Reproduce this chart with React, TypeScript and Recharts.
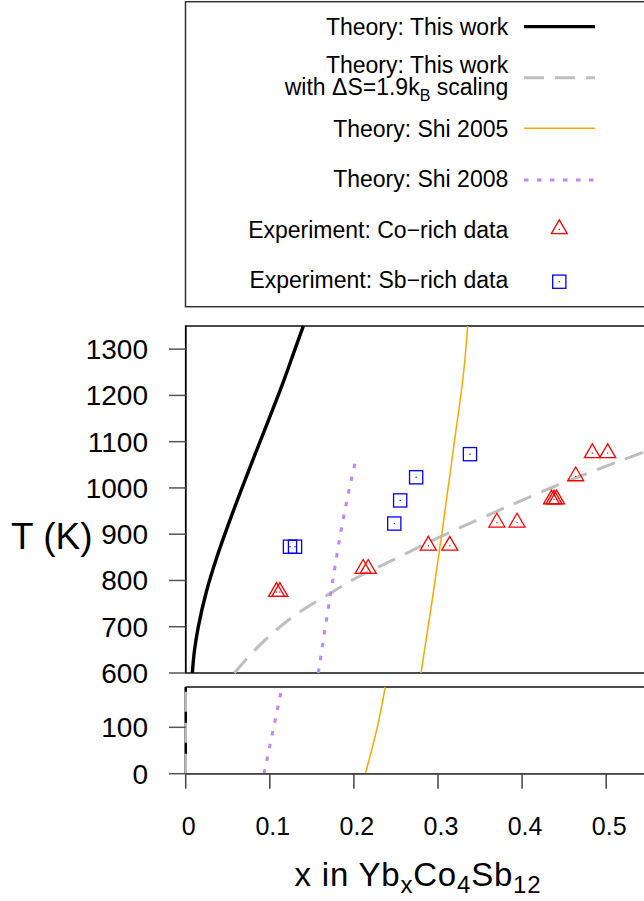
import { ComposedChart, Line, Scatter, XAxis, YAxis, ReferenceArea } from "recharts";

const FONT = '"Liberation Sans", Arial, Helvetica, sans-serif';

// upper panel, 600-1350 K
const thisWorkX = [0.0079, 0.0105, 0.015, 0.0245, 0.037, 0.0515, 0.067, 0.083, 0.0992, 0.1152, 0.13, 0.1399];
const thisWorkT = [600, 650, 700, 775, 850, 925, 1000, 1075, 1150, 1225, 1300, 1350];

const scaledX = [0.0578, 0.0943, 0.13, 0.1716, 0.2053, 0.237, 0.3024, 0.3618, 0.437, 0.544, 0.55];
const scaledT = [600, 671, 725, 772, 808, 836, 894, 943, 1002, 1077, 1081];

const shi2005X = [0.2798, 0.2925, 0.3045, 0.3195, 0.3305, 0.3353];
const shi2005T = [600, 750, 900, 1100, 1250, 1350];

const shi2008X = [0.1577, 0.1724, 0.1874, 0.2033];
const shi2008T = [600, 772, 934, 1070];

// lower panel, 0-187 K
const thisWorkLowX = [0, 0];
const thisWorkLowT = [0, 187];
const scaledLowX = [0, 0];
const scaledLowT = [0, 187];
const shi2005LowX = [0.2136, 0.2278, 0.2373];
const shi2005LowT = [0, 100, 187];
const shi2008LowX = [0.0931, 0.1023, 0.113];
const shi2008LowT = [0, 80, 174];

// experiments
const coRichX = [0.108, 0.112, 0.211, 0.217, 0.2885, 0.314, 0.37, 0.394, 0.435, 0.438, 0.441, 0.4637, 0.4835, 0.5018];
const coRichT = [775, 775, 825, 825, 875, 875, 925, 925, 975, 975, 975, 1025, 1075, 1075];
const sbRichX = [0.124, 0.13, 0.248, 0.255, 0.274, 0.338];
const sbRichT = [873, 873, 923, 973, 1023, 1073];

const xTicks = [0, 0.1, 0.2, 0.3, 0.4, 0.5];
const yTicksTop = [600, 700, 800, 900, 1000, 1100, 1200, 1300];
const yTicksLow = [0, 100];

const zip = (xs: number[], ts: number[]) => xs.map((x, i) => ({ x, t: ts[i] }));

const thisWork = zip(thisWorkX, thisWorkT);
const scaled = zip(scaledX, scaledT);
const shi2005 = zip(shi2005X, shi2005T);
const shi2008 = zip(shi2008X, shi2008T);
const thisWorkLow = zip(thisWorkLowX, thisWorkLowT);
const scaledLow = zip(scaledLowX, scaledLowT);
const shi2005Low = zip(shi2005LowX, shi2005LowT);
const shi2008Low = zip(shi2008LowX, shi2008LowT);
const coRich = zip(coRichX, coRichT);
const sbRich = zip(sbRichX, sbRichT);

const BLACK = "#000000";
const GRAY = "#bebebe";
const ORANGE = "#ffa500";
const PURPLE = "#bb88ff";
const RED = "#ff0000";
const BLUE = "#0000ff";

const Triangle = ({ cx, cy }: any) => (
    <g>
        <path d={`M${cx},${cy - 9.4}L${cx + 8},${cy + 4.4}L${cx - 8},${cy + 4.4}Z`} fill="none" stroke={RED} strokeWidth={1.3} />
        <rect x={cx - 0.6} y={cy - 0.6} width={1.2} height={1.2} fill={RED} />
    </g>
);

const Square = ({ cx, cy }: any) => (
    <g>
        <rect x={cx - 6.6} y={cy - 6.6} width={13.2} height={13.2} fill="none" stroke={BLUE} strokeWidth={1.3} />
        <rect x={cx - 0.6} y={cy - 0.6} width={1.2} height={1.2} fill={BLUE} />
    </g>
);

const YTick = ({ x, y, payload }: any) => (
    <text x={x} y={y} dy="0.355em" textAnchor="end" fontSize={28} fontFamily={FONT} fill="#000">
        {payload.value}
    </text>
);

const XTick = ({ x, y, payload }: any) => (
    <text x={x + 3} y={y} dy="0.71em" textAnchor="middle" fontSize={25} fontFamily={FONT} fill="#000">
        {payload.value}
    </text>
);

const lineProps = { type: "monotoneY" as const, dataKey: "t", dot: false, isAnimationActive: false, activeDot: false };

function Legend() {
    const textX = 508.3;
    const x1 = 524;
    const x2 = 595;
    const mx = 559.3;
    const txt = { fontSize: 23, fontFamily: FONT, fill: "#000", textAnchor: "end" as const };
    return (
        <svg width={644} height={310} style={{ position: "absolute", left: 0, top: 0 }}>
            <rect x={185.5} y={1.7} width={600} height={305} fill="#fff" stroke="#333" strokeWidth={1.5} />
            <text x={textX} y={35} {...txt}>Theory: This work</text>
            <line x1={x1} x2={x2} y1={26.7} y2={26.7} stroke={BLACK} strokeWidth={3.2} />

            <text {...txt}>
                <tspan x={textX} y={73.3}>Theory: This work</tspan>
                <tspan x={textX} y={95}>with ΔS=1.9k</tspan>
                <tspan fontSize={16} dy={6}>B</tspan>
                <tspan dy={-6}> scaling</tspan>
            </text>
            <line x1={x1} x2={x2} y1={77.7} y2={77.7} stroke={GRAY} strokeWidth={3} strokeDasharray="20 11" />

            <text x={textX} y={136.7} {...txt}>Theory: Shi 2005</text>
            <line x1={x1} x2={x2} y1={128.3} y2={128.3} stroke={ORANGE} strokeWidth={1.5} />

            <text x={textX} y={187.3} {...txt}>Theory: Shi 2008</text>
            <line x1={x1} x2={x2} y1={180} y2={180} stroke={PURPLE} strokeWidth={3} strokeDasharray="4.5 8.5" />

            <text x={textX} y={238.3} {...txt}>Experiment: Co−rich data</text>
            <Triangle cx={mx} cy={229.3} />

            <text x={textX} y={288.3} {...txt}>Experiment: Sb−rich data</text>
            <Square cx={mx} cy={281.7} />
        </svg>
    );
}

export default function App() {
    const plotW = 0.6 * 841;
    const left = 185.7;
    const lowH = 86.7;
    return (
        <div style={{ position: "fixed", left: 0, top: 0, width: 644, height: 901, overflow: "hidden", background: "#fff" }}>
            <Legend />

            <div style={{ position: "absolute", left: 0, top: 315.7 }}>
                <ComposedChart width={left + plotW} height={372} margin={{ top: 10, right: 0, bottom: 15, left: 0 }}>
                    <XAxis type="number" dataKey="x" domain={[0, 0.6]} hide />
                    <YAxis
                        type="number"
                        dataKey="t"
                        width={left}
                        domain={[600, 1350]}
                        ticks={yTicksTop}
                        interval={0}
                        tick={YTick}
                        tickSize={16.7}
                        tickMargin={21}
                        tickLine={{ stroke: "#555", strokeWidth: 1.5 }}
                        axisLine={{ stroke: "#000", strokeWidth: 1.5 }}
                        label={{
                            content: () => (
                                <text x={11} y={232.6} fontSize={37} fontFamily={FONT} fill="#000">T (K)</text>
                            ),
                        }}
                    />
                    <ReferenceArea x1={0} x2={0.6} y1={600} y2={1350} fill="none" stroke="#111" strokeWidth={1.5} />
                    <Line {...lineProps} data={thisWork} stroke={BLACK} strokeWidth={3.4} />
                    <Line {...lineProps} data={scaled} stroke={GRAY} strokeWidth={3} strokeDasharray="19 11" />
                    <Line {...lineProps} data={shi2005} stroke={ORANGE} strokeWidth={1.5} />
                    <Line {...lineProps} data={shi2008} stroke={PURPLE} strokeWidth={3} strokeDasharray="4.5 8.5" />
                    <Scatter data={coRich} dataKey="t" shape={Triangle} isAnimationActive={false} />
                    <Scatter data={sbRich} dataKey="t" shape={Square} isAnimationActive={false} />
                </ComposedChart>
            </div>

            <div style={{ position: "absolute", left: 0, top: 677.3 }}>
                <ComposedChart width={left + plotW} height={220.7} margin={{ top: 10, right: 0, bottom: 0, left: 0 }}>
                    <XAxis
                        type="number"
                        dataKey="x"
                        domain={[0, 0.6]}
                        ticks={xTicks}
                        interval={0}
                        height={124}
                        tick={XTick}
                        tickSize={15}
                        tickMargin={29}
                        tickLine={{ stroke: "#444", strokeWidth: 1.5 }}
                        axisLine={{ stroke: "#444", strokeWidth: 1.5 }}
                        label={{
                            content: () => (
                                <text x={418} y={208.7} textAnchor="middle" fontSize={33} letterSpacing={0.8} fontFamily={FONT} fill="#000">
                                    x in Yb<tspan fontSize={24} dy={7}>x</tspan>
                                    <tspan dy={-7}>Co</tspan>
                                    <tspan fontSize={24} dy={7}>4</tspan>
                                    <tspan dy={-7}>Sb</tspan>
                                    <tspan fontSize={24} dy={7}>12</tspan>
                                </text>
                            ),
                        }}
                    />
                    <YAxis
                        type="number"
                        dataKey="t"
                        width={left}
                        domain={[0, 187]}
                        ticks={yTicksLow}
                        interval={0}
                        tick={YTick}
                        tickSize={16.7}
                        tickMargin={21}
                        tickLine={{ stroke: "#555", strokeWidth: 1.5 }}
                        axisLine={false}
                    />
                    <ReferenceArea
                        x1={0}
                        x2={0.6}
                        y1={0}
                        y2={187}
                        fill="none"
                        stroke="#111"
                        strokeWidth={1.5}
                        strokeDasharray={`${plotW * 2 + lowH} ${lowH + 10}`}
                    />
                    <Line {...lineProps} type="linear" data={thisWorkLow} stroke={BLACK} strokeWidth={2.5} />
                    <Line {...lineProps} type="linear" data={scaledLow} stroke={GRAY} strokeWidth={2.5} strokeDasharray="20 11" />
                    <Line {...lineProps} data={shi2005Low} stroke={ORANGE} strokeWidth={1.5} />
                    <Line {...lineProps} data={shi2008Low} stroke={PURPLE} strokeWidth={3} strokeDasharray="4.5 8.5" />
                </ComposedChart>
            </div>
        </div>
    );
}
